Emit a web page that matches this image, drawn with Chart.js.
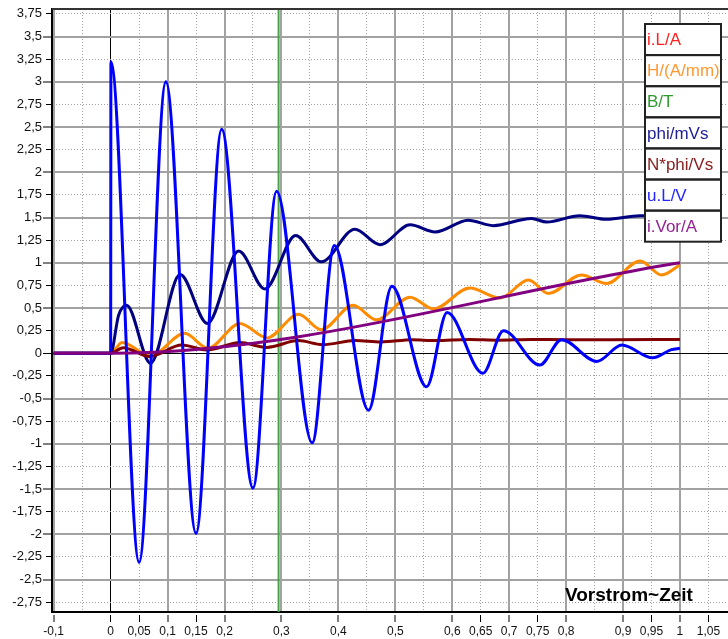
<!DOCTYPE html>
<html>
<head>
<meta charset="utf-8">
<script src="https://cdn.jsdelivr.net/npm/chart.js@4.4.0/dist/chart.umd.min.js"></script>
<style>
body { margin: 0; background: #fff; }
#mainChart { display: block; }
</style>
</head>
<body>
<canvas id="mainChart" width="728" height="639"></canvas>
<script>
// time in s (x) (y)
const uL_t = [-0.1, 0, 0.0005, 0.05, 0.097, 0.15, 0.195, 0.25, 0.2915, 0.354, 0.393, 0.453, 0.494, 0.555, 0.591, 0.654, 0.69, 0.754, 0.792, 0.854, 0.898, 0.952, 0.985, 1]
const uL_v = [0, 0, 3.22, -2.31, 3.0, -1.99, 2.475, -1.49, 1.79, -0.99, 1.19, -0.63, 0.74, -0.37, 0.45, -0.22, 0.25, -0.13, 0.15, -0.09, 0.09, -0.05, 0.04, 0.055]

const phi_t = [-0.1, 0, 0.014, 0.028, 0.07, 0.122, 0.17, 0.225, 0.271, 0.325, 0.37, 0.429, 0.473, 0.526, 0.57, 0.628, 0.672, 0.739, 0.766, 0.824, 0.871, 0.93, 1]
const phi_v = [0, 0, 0.42, 0.53, -0.11, 0.87, 0.33, 1.13, 0.71, 1.3, 1.01, 1.37, 1.2, 1.42, 1.34, 1.47, 1.41, 1.49, 1.45, 1.52, 1.48, 1.52, 1.52]

const H_t = [-0.1, 0, 0.02, 0.07, 0.13, 0.171, 0.227, 0.275, 0.33, 0.37, 0.426, 0.467, 0.526, 0.567, 0.631, 0.684, 0.734, 0.769, 0.827, 0.871, 0.93, 0.968, 1]
const H_v = [0, 0, 0.12, -0.03, 0.22, 0.055, 0.33, 0.17, 0.43, 0.26, 0.53, 0.37, 0.62, 0.49, 0.72, 0.61, 0.81, 0.66, 0.865, 0.77, 1.02, 0.865, 0.975]

const Nphi_t = [-0.1, 0, 0.022, 0.069, 0.125, 0.169, 0.227, 0.274, 0.33, 0.372, 0.43, 0.475, 0.53, 0.57, 0.63, 0.68, 0.74, 0.8, 0.87, 1]
const Nphi_v = [0, 0, 0.062, -0.035, 0.09, 0.036, 0.118, 0.065, 0.14, 0.095, 0.14, 0.125, 0.15, 0.14, 0.152, 0.145, 0.152, 0.15, 0.15, 0.152]

const iVor_t = [-0.1, 0, 1]
const iVor_v = [0, 0, 1]

const cursorTime = 0.295

const legendNames = ["i.L/A", "H/(A/mm)", "B/T", "phi/mVs", "N*phi/Vs", "u.L/V", "i.Vor/A"]
const legendColors = ["#ff2020", "#ff9933", "#2f9a2f", "#1e1e96", "#882222", "#2424ff", "#942494"]

const chartTitle = "Vorstrom~Zeit"

const xGridTicks = [-0.1, -0.05, 0, 0.05, 0.1, 0.15, 0.2, 0.25, 0.3, 0.35, 0.4, 0.45, 0.5, 0.55, 0.6, 0.65, 0.7, 0.75, 0.8, 0.85, 0.9, 0.95, 1, 1.05]
const xLabelTicks = [-0.1, 0, 0.05, 0.1, 0.15, 0.2, 0.3, 0.4, 0.5, 0.6, 0.65, 0.7, 0.75, 0.8, 0.9, 0.95, 1, 1.05]
const yTicks = [-2.75, -2.5, -2.25, -2, -1.75, -1.5, -1.25, -1, -0.75, -0.5, -0.25, 0, 0.25, 0.5, 0.75, 1, 1.25, 1.5, 1.75, 2, 2.25, 2.5, 2.75, 3, 3.25, 3.5, 3.75]

let xMin = -0.103
let xMax = 1.0844
let yMin = -2.859
let yMax = 3.804

function toPoints(ts, vs) {
    return ts.map((t, i) => ({ x: t, y: vs[i] }))
}

function isZero(v) {
    return Math.abs(v) < 1e-9
}

function isMajor(v, step) {
    let k = v / step
    return Math.abs(k - Math.round(k)) < 1e-6
}

function isLabeled(v) {
    return xLabelTicks.some(t => Math.abs(t - v) < 1e-6)
}

function formatTick(v) {
    return String(Math.round(v * 100) / 100).replace('.', ',')
}

function curve(label, pts, color, order) {
    return {
        label: label,
        data: pts,
        borderColor: color,
        borderWidth: 3,
        pointRadius: 0,
        cubicInterpolationMode: 'monotone',
        borderJoinStyle: 'round',
        fill: false,
        order: order
    }
}

const framePlugin = {
    id: 'frame',
    afterDraw(chart) {
        const ctx = chart.ctx
        const area = chart.chartArea
        ctx.save()

        // top border of the plot
        ctx.strokeStyle = '#333'
        ctx.lineWidth = 2
        ctx.beginPath()
        ctx.moveTo(area.left, area.top)
        ctx.lineTo(area.right, area.top)
        ctx.stroke()

        // caption bottom right
        ctx.font = 'bold 19px "Liberation Sans", Arial, sans-serif'
        ctx.fillStyle = '#000'
        ctx.textBaseline = 'alphabetic'
        ctx.textAlign = 'left'
        ctx.fillText(chartTitle, area.right - 163, area.bottom - 11)

        // legend table
        let left = 645
        let top = 24
        let w = 76
        let rowH = 31.1
        ctx.fillStyle = '#fff'
        ctx.fillRect(left, top, w, rowH * legendNames.length)
        ctx.strokeStyle = '#222'
        ctx.lineWidth = 2
        ctx.font = '17px "Liberation Sans", Arial, sans-serif'
        ctx.textBaseline = 'middle'
        legendNames.forEach((name, i) => {
            let y = top + i * rowH
            ctx.strokeRect(left, y, w, rowH)
            ctx.fillStyle = legendColors[i]
            ctx.fillText(name, left + 2, y + rowH / 2 + 1)
        })
        ctx.restore()
    }
}

function generateChart(chartId) {
    const ctx = document.getElementById(chartId).getContext('2d')
    window.myChart = new Chart(ctx, {
        type: 'line',
        data: {
            datasets: [
                curve('i.Vor/A', toPoints(iVor_t, iVor_v), '#800080', 1),
                curve('u.L/V', toPoints(uL_t, uL_v), '#0000ff', 2),
                curve('N*phi/Vs', toPoints(Nphi_t, Nphi_v), '#800000', 3),
                curve('phi/mVs', toPoints(phi_t, phi_v), '#000080', 4),
                curve('H/(A/mm)', toPoints(H_t, H_v), '#ff8c00', 6),
                {
                    label: 'cursor',
                    data: [{ x: cursorTime, y: yMin }, { x: cursorTime, y: yMax }],
                    borderColor: '#46a446',
                    borderWidth: 2,
                    pointRadius: 0,
                    order: 9
                }
            ]
        },
        options: {
            responsive: false,
            animation: false,
            devicePixelRatio: 1,
            layout: { padding: { top: 9, right: 0, left: 0, bottom: 0 } },
            plugins: {
                legend: { display: false },
                tooltip: { enabled: false }
            },
            scales: {
                x: {
                    type: 'linear',
                    min: xMin,
                    max: xMax,
                    afterBuildTicks: s => { s.ticks = xGridTicks.map(v => ({ value: v })) },
                    afterFit: s => { s.height = 27 },
                    ticks: {
                        autoSkip: false,
                        maxRotation: 0,
                        padding: 2,
                        color: '#111',
                        font: { family: '"Liberation Sans", Arial, sans-serif', size: 12 },
                        callback: v => isLabeled(v) ? formatTick(v) : ''
                    },
                    grid: {
                        color: c => (c.tick && isZero(c.tick.value)) ? '#000' : '#a2a2a2',
                        lineWidth: c => (c.tick && !isZero(c.tick.value) && isMajor(c.tick.value, 0.1)) ? 2 : 1,
                        tickLength: 10,
                        tickWidth: 1,
                        tickColor: c => (c.tick && isLabeled(c.tick.value)) ? '#000' : 'rgba(0,0,0,0)',
                        tickBorderDash: [0, 2, 8, 100]
                    },
                    border: {
                        color: '#000',
                        width: 2,
                        dash: c => (c.tick && !isMajor(c.tick.value, 0.1)) ? [1, 2] : []
                    }
                },
                y: {
                    type: 'linear',
                    min: yMin,
                    max: yMax,
                    afterBuildTicks: s => { s.ticks = yTicks.map(v => ({ value: v })) },
                    afterFit: s => { s.width = 52 },
                    ticks: {
                        autoSkip: false,
                        padding: 1,
                        color: '#111',
                        font: { family: '"Liberation Sans", Arial, sans-serif', size: 13 },
                        callback: v => formatTick(v)
                    },
                    grid: {
                        color: c => (c.tick && isZero(c.tick.value)) ? '#000' : '#a2a2a2',
                        lineWidth: c => (c.tick && !isZero(c.tick.value) && isMajor(c.tick.value, 0.5)) ? 2 : 1,
                        tickLength: 9,
                        tickWidth: 1,
                        tickColor: '#000',
                        tickBorderDash: c => (c.tick && !isMajor(c.tick.value, 0.5)) ? [0, 3, 6, 100] : []
                    },
                    border: {
                        color: '#000',
                        width: 2,
                        dash: c => (c.tick && !isMajor(c.tick.value, 0.5)) ? [1, 2] : []
                    }
                }
            }
        },
        plugins: [framePlugin]
    })
}

generateChart('mainChart')
</script>
</body>
</html>
